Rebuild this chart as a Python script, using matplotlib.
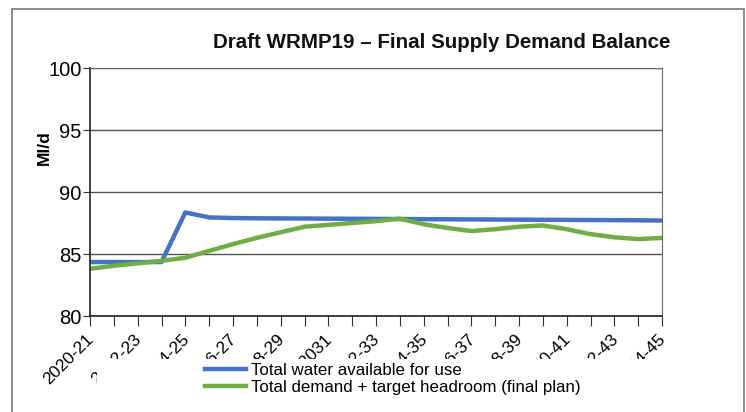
import matplotlib.pyplot as plt
from matplotlib.patches import Rectangle
from matplotlib.transforms import ScaledTranslation

plt.rcParams['font.family'] = ['Liberation Sans', 'DejaVu Sans']

years = [f"{y}-{(y + 1) % 100:02d}" for y in range(2020, 2045)]
years[10] = "2030-2031"

available = [84.35, 84.35, 84.35, 84.35, 88.35, 87.95, 87.9, 87.88, 87.87, 87.86,
             87.85, 87.84, 87.83, 87.82, 87.81, 87.8, 87.79, 87.78, 87.77, 87.76,
             87.75, 87.74, 87.73, 87.72, 87.7]
demand = [83.8, 84.05, 84.25, 84.45, 84.7, 85.25, 85.8, 86.3, 86.75, 87.2,
          87.35, 87.5, 87.65, 87.85, 87.4, 87.1, 86.85, 87.0, 87.2, 87.3,
          87.0, 86.6, 86.35, 86.2, 86.3]

W, H = 746, 412
fig = plt.figure(figsize=(W / 100, H / 100), dpi=100)
ax = fig.add_axes([90 / W, 1 - 316 / H, (662 - 90) / W, (316 - 68) / H])

x = list(range(len(years)))
l1, = ax.plot(x, available, color="#4472C4", linewidth=3.2, label="Total water available for use")
l2, = ax.plot(x, demand, color="#70AD47", linewidth=3.2, label="Total demand + target headroom (final plan)")

ax.set_xlim(0, len(years) - 1)
ax.set_ylim(80, 100)
ax.set_yticks([80, 85, 90, 95, 100])
ax.tick_params(axis="y", labelsize=14.5, length=5, pad=1, direction="out", color="#333333")
ax.set_xticks(x)
ax.set_xticklabels([y if i % 2 == 0 else "" for i, y in enumerate(years)],
                   rotation=45, ha="right", rotation_mode="anchor", fontsize=12.5)
ax.tick_params(axis="x", length=7, pad=2, direction="out", color="#333333")
shift = ScaledTranslation(-3 / 72, -2.5 / 72, fig.dpi_scale_trans)
for lab in ax.get_xticklabels():
    lab.set_transform(lab.get_transform() + shift)
ax.yaxis.grid(True, color="#555555", linewidth=1)
ax.set_axisbelow(True)
for s in ["top", "right"]:
    ax.spines[s].set_color("#666666")
for s in ["left", "bottom"]:
    ax.spines[s].set_color("#222222")
    ax.spines[s].set_linewidth(1.2)

fig.text(44 / W, 1 - 148 / H, "Ml/d", rotation=90, ha="center", va="center",
         fontsize=12.5, fontweight="bold")
fig.text(442 / W, 1 - 42 / H, "Draft WRMP19 \u2013 Final Supply Demand Balance",
         ha="center", va="center", fontsize=14.8, fontweight="bold", color="#111111")

# white box hiding part of the tick labels, as in the original
fig.patches.append(Rectangle((97 / W, 0), (705 - 97) / W, 1 - 359 / H,
                             transform=fig.transFigure, facecolor="white",
                             edgecolor="none", zorder=5))
# outer frame
fig.patches.append(Rectangle((12 / W, -0.05), (744 - 12) / W, 1.05 - 9 / H,
                             transform=fig.transFigure, facecolor="none",
                             edgecolor="#777777", linewidth=1.2, zorder=6))

leg = fig.legend(handles=[l1, l2], loc="upper left", bbox_to_anchor=(205 / W, 1 - 363 / H),
                 frameon=False, fontsize=12.2, handlelength=2.4, handletextpad=0.3,
                 labelspacing=0.12, borderpad=0, borderaxespad=0)
leg.set_zorder(7)

fig.savefig("out.png", dpi=100)
